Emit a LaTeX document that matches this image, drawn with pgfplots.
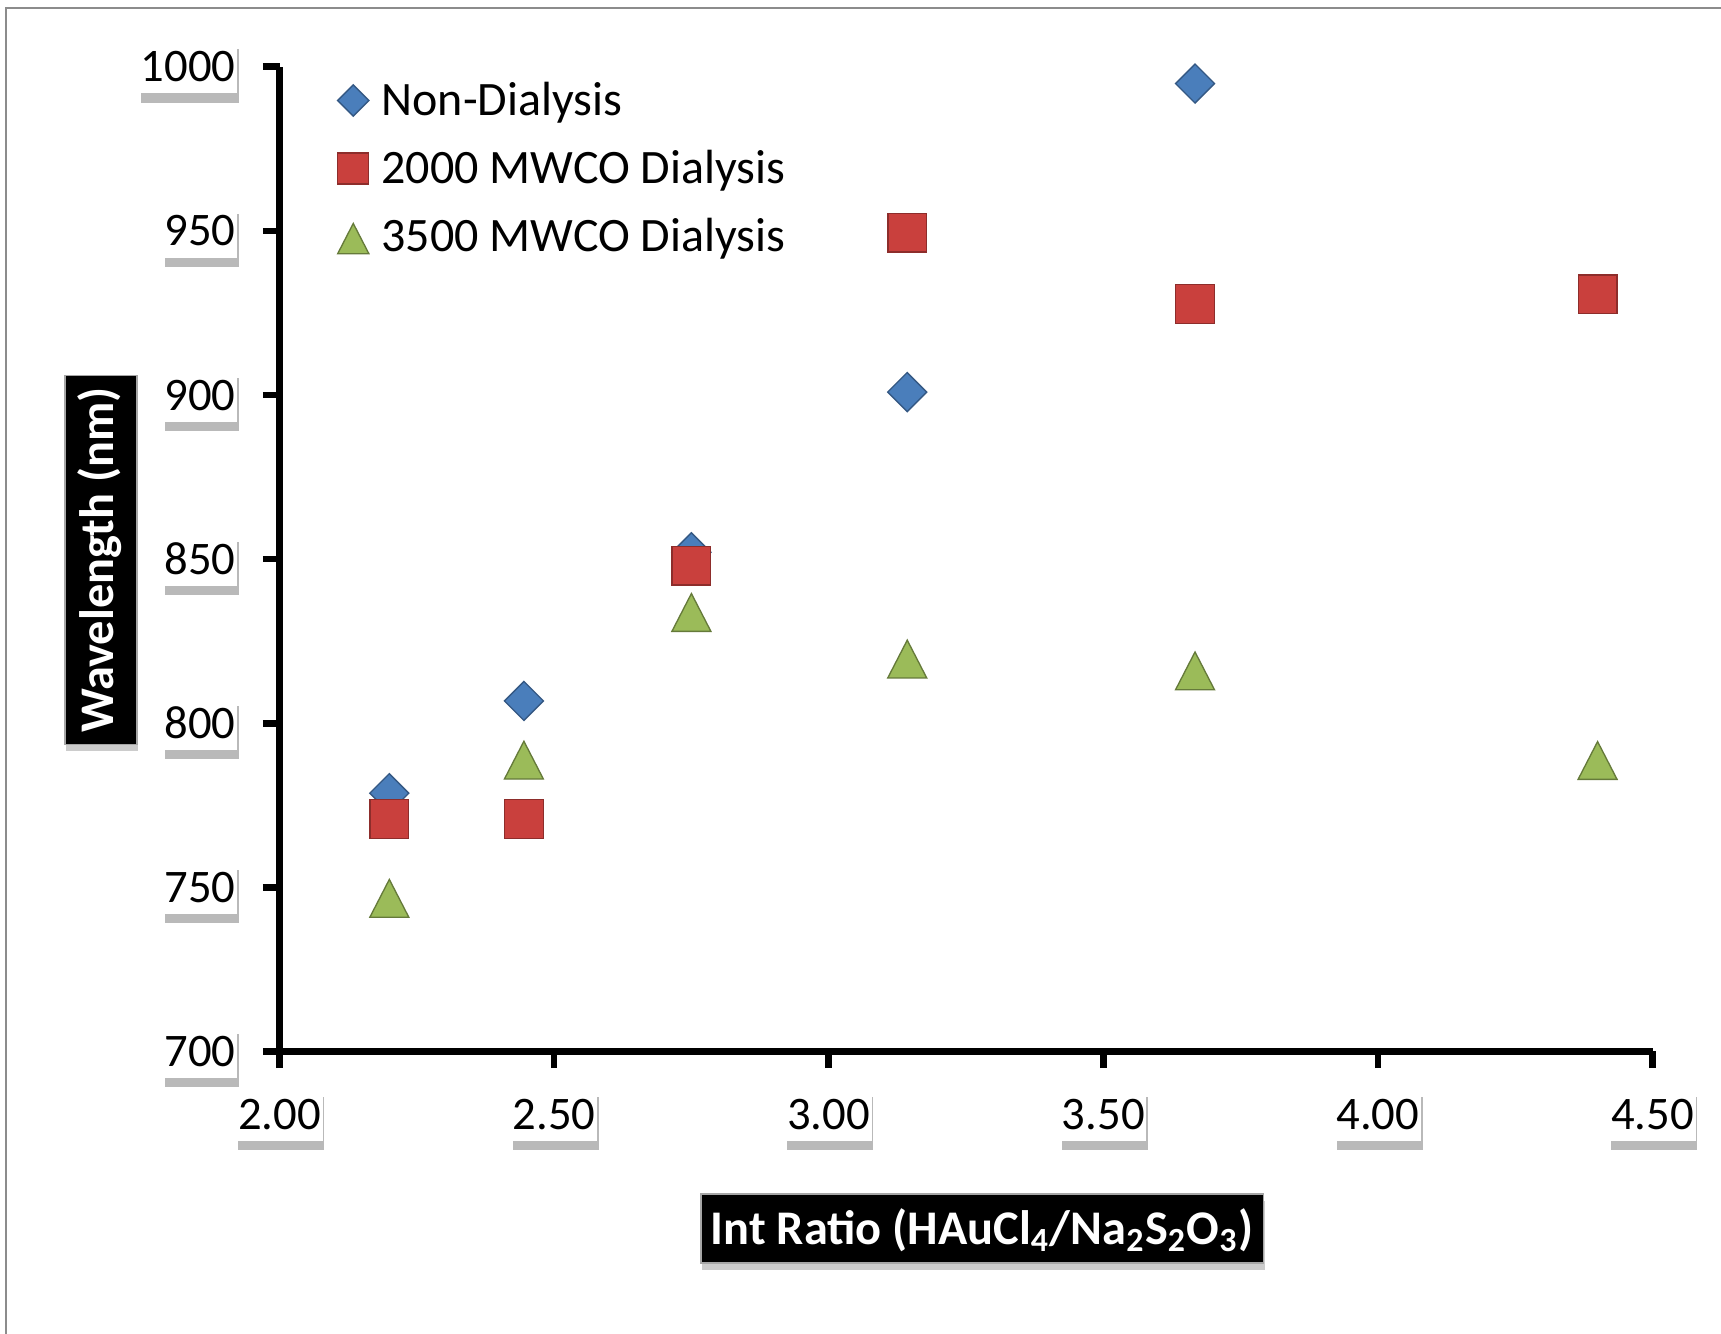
\documentclass[border=0pt]{standalone}
\usepackage{pgfplots}
\pgfplotsset{compat=1.18}
\usepackage{fontspec}
\setmainfont{Carlito}
\usetikzlibrary{shadows}
\definecolor{cblue}{HTML}{4A7EBB}
\definecolor{cred}{HTML}{C9403D}
\definecolor{cgreen}{HTML}{9BBB59}
\definecolor{frm}{HTML}{8C8C8C}
\begin{document}
\begin{tikzpicture}
\useasboundingbox (0,0) rectangle (516.3pt,400.2pt);
\draw[frm, line width=0.6pt] (1.65pt,-5pt) -- (1.65pt,397.8pt) -- (530pt,397.8pt);
\begin{axis}[
  at={(83.85pt,84.75pt)}, anchor=south west,
  scale only axis, width=411.9pt, height=295.4pt,
  xmin=2, xmax=4.5, ymin=700, ymax=1000,
  axis lines=left, axis line style={line width=2pt, -},
  clip=false,
  xtick={2,2.5,3,3.5,4,4.5},
  ytick={700,750,800,850,900,950,1000},
  scaled ticks=false,
  tick align=outside, major tick length=5pt,
  tick style={line width=2pt, black},
  xticklabel={\pgfmathprintnumber[fixed,fixed zerofill,precision=2,assume math mode=true]{\tick}},
  yticklabel={\pgfmathprintnumber[fixed,precision=0,1000 sep={},assume math mode=true]{\tick}},
  tick label style={font=\fontsize{14}{14}\selectfont, fill=white, inner xsep=0.5pt, inner ysep=3.5pt,
    text height=9pt, text depth=0pt,
    drop shadow={shadow xshift=0.5pt, shadow yshift=-2.8pt, opacity=0.55}},
  yticklabel style={xshift=-7.5pt},
  xticklabel style={yshift=-5.6pt},
  xlabel={Int Ratio (HAuCl\textsubscript{4}/Na\textsubscript{2}S\textsubscript{2}O\textsubscript{3})},
  xlabel style={at={(rel axis cs:0.5117,-0.1797)}, anchor=center, fill=black, text=white, draw=gray!70,
    font=\bfseries\fontsize{14.5}{14.5}\selectfont, inner xsep=3pt, inner ysep=5.6pt,
    text height=9.5pt, text depth=0pt,
    drop shadow={shadow xshift=0.4pt, shadow yshift=-2pt, opacity=0.4}},
  ylabel={Wavelength (nm)},
  ylabel style={at={(rel axis cs:-0.130,0.4991)}, anchor=center, fill=black, text=white, draw=gray!70,
    font=\bfseries\fontsize{14.5}{14.5}\selectfont, inner xsep=3.5pt, inner ysep=4.4pt,
    text height=10.2pt, text depth=2.6pt,
    drop shadow={shadow xshift=0.4pt, shadow yshift=-2pt, opacity=0.4}},
  legend style={at={(0.0331,0.9832)}, anchor=north west, draw=none, fill=none,
    inner sep=0pt, outer sep=0pt, row sep=7.9pt, column sep=0pt,
    font=\fontsize{14.4}{14.4}\selectfont,
    nodes={inner sep=0pt, text height=9.5pt, text depth=3pt}},
  legend cell align=left,
  legend image code/.code={\path[draw=none,fill=none] (0pt,-4.6pt) rectangle (17pt,4.6pt);
    \draw[#1, /tikz/every mark/.append style={scale=0.8}] plot coordinates {(8.5pt,1.1pt)};},
]
\addplot[only marks, mark=square*, mark size=4.14pt,
  mark options={rotate=45, fill=cblue, draw=cblue!70!black, line width=0.4pt}]
  coordinates {(2.2,778.7) (2.445,806.8) (2.75,852.1) (3.143,900.9) (3.667,994.9)};
\addlegendentry{Non-Dialysis}
\addplot[only marks, mark=square*, mark size=5.8pt,
  mark options={fill=cred, draw=cred!70!black, line width=0.4pt}]
  coordinates {(2.2,770.8) (2.445,770.8) (2.75,848.0) (3.143,949.5) (3.667,927.7) (4.4,930.7)};
\addlegendentry{2000 MWCO Dialysis}
\addplot[only marks, mark=triangle*, mark size=6.75pt,
  mark options={yscale=1.12, yshift=-1.9pt, fill=cgreen, draw=cgreen!65!black, line width=0.4pt}]
  coordinates {(2.2,746.9) (2.445,789.0) (2.75,834.0) (3.143,819.8) (3.667,816.2) (4.4,788.9)};
\addlegendentry{3500 MWCO Dialysis}
\end{axis}
\end{tikzpicture}
\end{document}
